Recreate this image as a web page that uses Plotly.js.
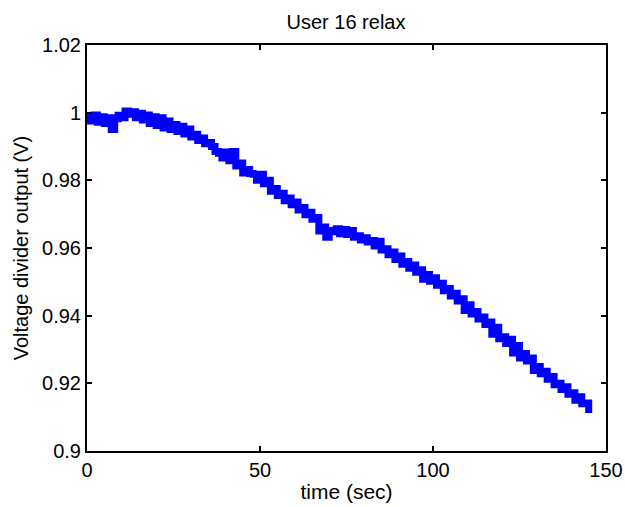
<!DOCTYPE html>
<html><head><meta charset="utf-8">
<script src="https://cdn.plot.ly/plotly-3.0.1.min.js"></script>
<style>html,body{margin:0;padding:0;background:#fff;}#chart{width:625px;height:507px;}</style>
</head><body><div id="chart"></div>
<script>
const timeSec = [0,1,2,3,4,5,6,7,8,9,10,11,12,13,14,15,16,17,18,19,20,21,22,23,24,25,26,27,28,29,30,31,32,33,34,35,36,37,38,39,40,41,42,43,44,45,46,47,48,49,50,51,52,53,54,55,56,57,58,59,60,61,62,63,64,65,66,67,68,69,70,71,72,73,74,75,76,77,78,79,80,81,82,83,84,85,86,87,88,89,90,91,92,93,94,95,96,97,98,99,100,101,102,103,104,105,106,107,108,109,110,111,112,113,114,115,116,117,118,119,120,121,122,123,124,125,126,127,128,129,130,131,132,133,134,135,136,137,138,139,140,141,142,143,144,145];
const voltage = [0.9990,0.9975,0.9993,0.9972,0.9988,0.9968,0.9985,0.9950,0.9982,0.9992,0.9985,1.0005,0.9995,1.0003,0.9985,0.9998,0.9978,0.9993,0.9968,0.9988,
  0.9962,0.9985,0.9955,0.9975,0.9950,0.9965,0.9944,0.9960,0.9937,0.9952,0.9928,0.9936,0.9918,0.9925,0.9908,0.9912,0.9900,0.9885,0.9880,0.9866,
  0.9884,0.9858,0.9885,0.9842,0.9851,0.9822,0.9832,0.9820,0.9818,0.9800,0.9818,0.9790,0.9800,0.9768,0.9776,0.9755,0.9762,0.9740,0.9748,0.9728,
  0.9736,0.9712,0.9720,0.9698,0.9706,0.9685,0.9690,0.9650,0.9662,0.9632,0.9652,0.9648,0.9657,0.9642,0.9655,0.9640,0.9652,0.9632,0.9636,0.9624,
  0.9630,0.9618,0.9622,0.9606,0.9620,0.9594,0.9598,0.9580,0.9588,0.9566,0.9576,0.9552,0.9560,0.9540,0.9550,0.9528,0.9536,0.9508,0.9522,0.9502,
  0.9512,0.9490,0.9496,0.9474,0.9480,0.9458,0.9466,0.9443,0.9450,0.9415,0.9432,0.9405,0.9412,0.9390,0.9396,0.9374,0.9381,0.9345,0.9366,0.9332,
  0.9338,0.9318,0.9330,0.9290,0.9312,0.9275,0.9288,0.9266,0.9275,0.9238,0.9250,0.9228,0.9236,0.9212,0.9220,0.9196,0.9200,0.9182,0.9190,0.9168,
  0.9172,0.9150,0.9160,0.9140,0.9142,0.9112];
const yTickVals = [0.9,0.92,0.94,0.96,0.98,1,1.02];
const yTickText = ['0.9','0.92','0.94','0.96','0.98','1','1.02'];
const xTickVals = [0,50,100,150];

const trace = {x: timeSec, y: voltage, type:'scatter', mode:'lines',
  line:{color:'#0000ff', width:7, shape:'hv'}, hoverinfo:'skip'};
const font = {family:'Liberation Sans, Arial, sans-serif', color:'#000'};
const layout = {
  width:625, height:507, paper_bgcolor:'#fff', plot_bgcolor:'#fff', showlegend:false,
  margin:{l:87, r:19, t:45, b:56},
  title:{text:'User 16 relax', font:Object.assign({size:20}, font), x:346/625, xanchor:'center', y:1-22/507, yanchor:'middle'},
  xaxis:{range:[0,150], tickvals:xTickVals, ticks:'inside', ticklen:5, tickwidth:2, tickcolor:'#000',
    showline:true, linecolor:'#000', linewidth:2, mirror:'ticks', showgrid:false, zeroline:false,
    ticklabeloverflow:'allow',
    tickfont:Object.assign({size:20}, font),
    title:{text:'time (sec)', font:Object.assign({size:21}, font), standoff:4}},
  yaxis:{range:[0.9,1.02], tickvals:yTickVals, ticktext:yTickText, ticks:'inside', ticklen:5, tickwidth:2, tickcolor:'#000',
    showline:true, linecolor:'#000', linewidth:2, mirror:'ticks', showgrid:false, zeroline:false,
    ticklabeloverflow:'allow',
    tickfont:Object.assign({size:20}, font),
    title:{text:'Voltage divider output (V)', font:Object.assign({size:20}, font), standoff:8}}
};
Plotly.newPlot('chart', [trace], layout, {displayModeBar:false, staticPlot:true});
</script></body></html>
